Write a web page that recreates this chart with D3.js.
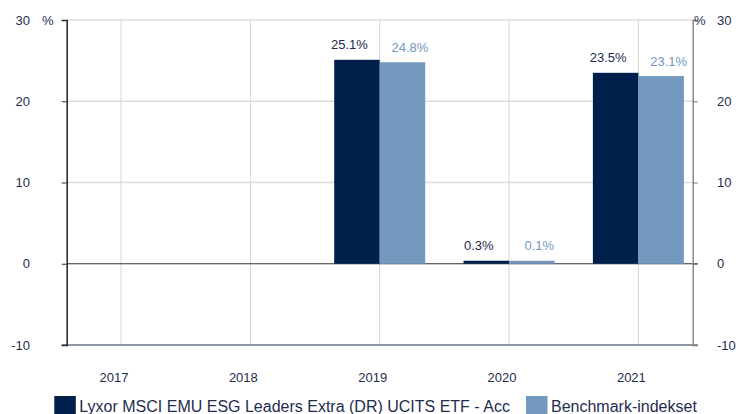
<!DOCTYPE html>
<html>
<head>
<meta charset="utf-8">
<script src="https://cdn.jsdelivr.net/npm/d3@7"></script>
<style>
body{margin:0;background:#fff;}
text{font-family:Arial,"Liberation Sans",sans-serif;}
</style>
</head>
<body>
<div id="chart"></div>
<script>
var years = ["2017","2018","2019","2020","2021"];
var fund = [null,null,25.1,0.3,23.5];
var bench = [null,null,24.8,0.1,23.1];
var yTicks = [-10,0,10,20,30];
var seriesNames = ["Lyxor MSCI EMU ESG Leaders Extra (DR) UCITS ETF - Acc","Benchmark-indekset"];
var colors = ["#001f4b","#7399be"];
var labelColors = ["#1b2a4c","#7399be"];

var W = 736, H = 414;
var plotL = 66.7, plotR = 692.7, plotT = 20, plotB = 345;
var navy = "#1f2d4f";

var svg = d3.select("#chart").append("svg").attr("width",W).attr("height",H);

var x = d3.scalePoint().domain(years).range([plotL,plotR]).padding(0.42);
var y = d3.scaleLinear().domain([-10,30]).range([plotB,plotT]);
var barW = 45.5;

// horizontal grid
svg.selectAll(".hg").data(yTicks.filter(function(d){return d>0;})).enter().append("line")
	.attr("x1",plotL).attr("x2",plotR).attr("y1",function(d){return y(d);}).attr("y2",function(d){return y(d);})
	.attr("stroke","#dcdcdc").attr("stroke-width",1.5);
// vertical grid
svg.selectAll(".vg").data(years).enter().append("line")
	.attr("x1",function(d){return x(d);}).attr("x2",function(d){return x(d);}).attr("y1",plotT).attr("y2",plotB)
	.attr("stroke","#d6d6d6").attr("stroke-width",1);

// zero line and bottom
svg.append("line").attr("x1",plotL).attr("x2",plotR+5).attr("y1",y(0)).attr("y2",y(0)).attr("stroke","#333").attr("stroke-width",1.2);
svg.append("line").attr("x1",plotL-5).attr("x2",plotR+5).attr("y1",plotB).attr("y2",plotB).attr("stroke","#6b7689").attr("stroke-width",1.5);

// bars (tiny values get a minimum visible height, like the original)
var minH = 3;
function barTop(v){ return Math.min(y(Math.max(0,v)), y(0)-minH); }
[fund,bench].forEach(function(vals,s){
	var data = years.map(function(yr,i){return {year:yr,v:vals[i]};}).filter(function(d){return d.v!==null;});
	svg.selectAll(".bar"+s).data(data).enter().append("rect")
		.attr("x",function(d){return s==0 ? x(d.year)-barW : x(d.year);})
		.attr("width",barW)
		.attr("y",function(d){return barTop(d.v);})
		.attr("height",function(d){return Math.max(minH, Math.abs(y(d.v)-y(0)));})
		.attr("fill",colors[s]);
	svg.selectAll(".lab"+s).data(data).enter().append("text")
		.attr("x",function(d){return s==0 ? x(d.year)-barW/2-7.5 : x(d.year)+barW/2+7.5;})
		.attr("y",function(d){return barTop(d.v)-10.5;})
		.attr("text-anchor","middle").attr("font-size","13px").attr("fill",labelColors[s])
		.text(function(d){return d.v.toFixed(1)+"%";});
});

// left axis
var la = svg.append("g").attr("transform","translate("+plotL+",0)")
	.call(d3.axisLeft(y).tickValues(yTicks).tickSize(5).tickPadding(0).tickFormat(""));
la.select(".domain").attr("stroke","#222").attr("stroke-width",1.5);
la.selectAll(".tick line").attr("stroke","#333");
svg.selectAll(".ltl").data(yTicks).enter().append("text")
	.attr("x",30).attr("y",function(d){return y(d)+4.5;}).attr("text-anchor","end")
	.attr("font-size","13px").attr("fill",navy).text(function(d){return d;});
svg.append("text").attr("x",42).attr("y",y(30)+4.5).attr("font-size","13px").attr("fill",navy).text("%");

// right axis
var ra = svg.append("g").attr("transform","translate("+plotR+",0)")
	.call(d3.axisRight(y).tickValues(yTicks).tickSize(5).tickFormat(""));
ra.select(".domain").attr("stroke","#8a8a8a").attr("stroke-width",1.5);
ra.selectAll(".tick line").attr("stroke","#777");
svg.selectAll(".rtl").data(yTicks).enter().append("text")
	.attr("x",717).attr("y",function(d){return y(d)+4.5;})
	.attr("font-size","13px").attr("fill",navy).text(function(d){return d;});
svg.append("text").attr("x",694).attr("y",y(30)+4.5).attr("font-size","13px").attr("fill",navy).text("%");

// x labels
svg.selectAll(".xl").data(years).enter().append("text")
	.attr("x",function(d){return x(d)-7;}).attr("y",382)
	.attr("text-anchor","middle").attr("font-size","13px").attr("fill",navy).text(function(d){return d;});

// legend
var legX = [54.3,526];
seriesNames.forEach(function(n,i){
	svg.append("rect").attr("x",legX[i]).attr("y",396).attr("width",21.5).attr("height",20).attr("fill",colors[i]);
	svg.append("text").attr("x",legX[i]+25).attr("y",412).attr("font-size","16px").attr("fill",navy).text(n);
});
</script>
</body>
</html>
